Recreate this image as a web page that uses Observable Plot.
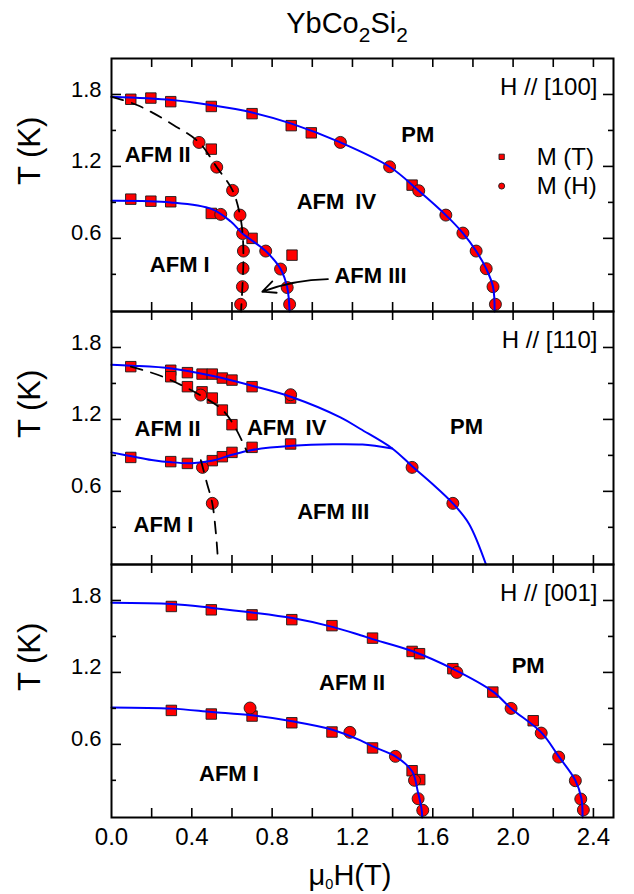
<!DOCTYPE html>
<html><head><meta charset="utf-8">
<script src="https://cdn.jsdelivr.net/npm/d3@7"></script>
<script src="https://cdn.jsdelivr.net/npm/@observablehq/plot@0.6"></script>
<style>
body{margin:0;background:#fff;}
#wrap{position:relative;width:634px;height:894px;font-family:'Liberation Sans',Arial,sans-serif;color:#000;overflow:hidden;}
#title{position:absolute;left:197px;width:300px;top:6px;text-align:center;font-size:29px;line-height:34px;}
#title sub{font-size:0.72em;vertical-align:-0.45em;line-height:0;}
#xlabel{position:absolute;left:250px;width:200px;top:859px;text-align:center;font-size:29px;line-height:32px;}
#xlabel sub{font-size:0.5em;vertical-align:-0.3em;line-height:0;}
.p{position:absolute;left:0;}
</style></head>
<body><div id="wrap">
<div id="title">YbCo<sub>2</sub>Si<sub>2</sub></div>
<div id="xlabel">μ<sub>0</sub>H(T)</div>
</div>
<script>
// ---- tick values ----
const xTicks = [0.2,0.4,0.6,0.8,1.0,1.2,1.4,1.6,1.8,2.0,2.2,2.4];
const xTickLabels = [0.0,0.4,0.8,1.2,1.6,2.0,2.4];
const yMajor = [0.6,1.2,1.8];
const yMinor = [0.3,0.9,1.5];

// ---- H // [100] ----
const p100Squares = [[0.096,1.76],[0.196,1.77],[0.295,1.74],[0.497,1.70],[0.70,1.64],[0.895,1.54],[0.995,1.48],[1.497,1.044],[0.497,1.344],
  [0.096,0.927],[0.196,0.91],[0.295,0.905],[0.497,0.808],[0.70,0.60],[0.899,0.46]];
const p100Circles = [[1.14,1.40],[1.385,1.197],[1.53,0.997],[1.665,0.794],[1.75,0.644],[1.816,0.494],[1.866,0.347],[1.90,0.197],[1.912,0.05],
  [0.544,0.80],[0.653,0.64],[0.768,0.494],[0.842,0.344],[0.875,0.19],[0.887,0.05],
  [0.436,1.40],[0.524,1.194],[0.603,1.0],[0.64,0.794],[0.657,0.494],[0.655,0.35],[0.652,0.197],[0.643,0.05]];
const p100UpperFit = [[0,1.78],[0.3,1.753],[0.5,1.71],[0.7,1.65],[0.9,1.555],[1.14,1.40],[1.385,1.197],[1.53,0.997],[1.665,0.794],[1.75,0.644],[1.816,0.494],[1.866,0.347],[1.90,0.197],[1.908,-0.01]];
const p100LowerFit = [[0,0.913],[0.295,0.90],[0.5,0.844],[0.594,0.74],[0.653,0.64],[0.768,0.494],[0.842,0.344],[0.875,0.19],[0.887,-0.01]];
const p100Dashed = [[0,1.78],[0.13,1.71],[0.31,1.544],[0.436,1.40],[0.524,1.194],[0.603,1.0],[0.64,0.794],[0.653,0.636],[0.657,0.45],[0.655,0.3],[0.645,-0.01]];

// ---- H // [110] ----
const p110Squares = [[0.096,1.64],[0.295,1.61],[0.295,1.556],[0.378,1.59],[0.378,1.473],[0.451,1.578],[0.451,1.43],[0.502,1.578],[0.502,1.378],
  [0.552,1.545],[0.552,1.278],[0.60,1.528],[0.60,1.156],[0.70,1.473],[0.892,1.378],
  [0.096,0.883],[0.295,0.848],[0.378,0.833],[0.502,0.856],[0.552,0.889],[0.60,0.925],[0.70,0.967],[0.892,0.995]];
const p110Circles = [[0.444,1.403],[0.892,1.406],[0.453,0.80],[0.502,0.50],[1.497,0.80],[1.70,0.50]];
const p110UpperFit = [[0,1.655],[0.1,1.648],[0.3,1.625],[0.5,1.564],[0.7,1.481],[0.9,1.385],[1.14,1.217],[1.24,1.12],[1.398,0.958],[1.497,0.81],[1.60,0.66],[1.70,0.5],[1.78,0.33],[1.865,-0.01]];
const p110LowerFit = [[0,0.925],[0.1,0.893],[0.2,0.862],[0.3,0.842],[0.4,0.835],[0.5,0.855],[0.6,0.905],[0.7,0.945],[0.9,0.98],[1.1,0.993],[1.25,0.99],[1.398,0.958]];
const p110DashedUpper = [[0.096,1.64],[0.25,1.56],[0.444,1.40],[0.552,1.28],[0.61,1.15],[0.675,0.93]];
const p110DashedLower = [[0.445,0.86],[0.475,0.67],[0.502,0.50],[0.52,0.25],[0.528,0.08]];

// ---- H // [001] ----
const p001Squares = [[0.298,1.75],[0.497,1.722],[0.70,1.68],[0.898,1.64],[1.098,1.59],[1.30,1.486],[1.497,1.375],[1.534,1.356],[1.70,1.231],[1.899,1.036],[2.10,0.797],
  [0.298,0.883],[0.497,0.853],[0.70,0.836],[0.898,0.78],[1.098,0.703],[1.30,0.57],[1.497,0.38],[1.535,0.306]];
const p001Circles = [[1.72,1.20],[1.99,0.90],[2.14,0.694],[2.227,0.494],[2.31,0.297],[2.337,0.144],[2.35,0.053],
  [0.69,0.903],[1.187,0.70],[1.414,0.50],[1.509,0.30],[1.527,0.147],[1.55,0.05]];
const p001UpperFit = [[0,1.78],[0.3,1.77],[0.5,1.738],[0.7,1.70],[0.9,1.653],[1.1,1.58],[1.24,1.51],[1.3,1.478],[1.5,1.377],[1.7,1.23],[1.9,1.04],[1.99,0.90],[2.14,0.70],[2.227,0.50],[2.31,0.30],[2.34,0.15],[2.346,-0.01]];
const p001LowerFit = [[0,0.908],[0.3,0.898],[0.5,0.87],[0.7,0.842],[0.9,0.792],[1.1,0.722],[1.24,0.633],[1.3,0.583],[1.414,0.50],[1.497,0.375],[1.525,0.21],[1.545,0.05],[1.547,-0.01]];

// ---- annotations (data coordinates) ----
const p100Labels = [{x:0.23,y:1.294,t:"AFM II"},{x:0.34,y:0.378,t:"AFM I"},{x:1.12,y:0.905,t:"AFM\u2002IV"},{x:1.525,y:1.46,t:"PM"},{x:1.29,y:0.285,t:"AFM III"}];
const p110Labels = [{x:0.279,y:1.12,t:"AFM II"},{x:0.872,y:1.128,t:"AFM\u2002IV"},{x:0.259,y:0.32,t:"AFM I"},{x:1.104,y:0.425,t:"AFM III"},{x:1.768,y:1.14,t:"PM"}];
const p001Labels = [{x:1.198,y:1.11,t:"AFM II"},{x:2.075,y:1.256,t:"PM"},{x:0.585,y:0.356,t:"AFM I"}];
const legendItems = [{x:1.943,y:1.28,sym:"square",t:"M (T)"},{x:1.943,y:1.036,sym:"circle",t:"M (H)"}];
const arrow100 = [{x1:1.078,y1:0.26,x2:0.751,y2:0.155}];

const W = 502, H = 253;
const px = d => d[0], py = d => d[1];
const SQ = 5.9, CI = 6;

function panel({squares, circles, fits, dashed, labels, dir, extra = [], bottom = false, top}) {
  const mt = 6, mb = bottom ? 50 : 6;
  const marks = [
    Plot.dot(squares, {x: px, y: py, symbol: "square", r: SQ, fill: "#ff0000", stroke: "#1a1a1a", strokeWidth: 0.9}),
    Plot.dot(circles, {x: px, y: py, symbol: "circle", r: CI, fill: "#ff0000", stroke: "#1a1a1a", strokeWidth: 0.9}),
    ...fits.map(f => Plot.line(f, {x: px, y: py, stroke: "#0000ff", strokeWidth: 2, curve: "catmull-rom"})),
    ...dashed.map(f => Plot.line(f, {x: px, y: py, stroke: "#000", strokeWidth: 1.8, strokeDasharray: "12,9", curve: "catmull-rom"})),
    Plot.text(labels, {x: "x", y: "y", text: "t", fontWeight: "bold", fontSize: 22}),
    Plot.text([dir], {x: 2.42, y: 1.86, text: d => d, textAnchor: "end", fontSize: 24}),
    ...extra,
    // inward ticks
    Plot.tickX(xTicks, {x: d => d, insetTop: H - 9, stroke: "#000", strokeWidth: 1.6}),
    Plot.tickX(xTicks, {x: d => d, insetBottom: H - 9, stroke: "#000", strokeWidth: 1.6}),
    Plot.tickY(yMajor, {y: d => d, insetRight: W - 10, stroke: "#000", strokeWidth: 1.6}),
    Plot.tickY(yMajor, {y: d => d, insetLeft: W - 10, stroke: "#000", strokeWidth: 1.6}),
    Plot.tickY(yMinor, {y: d => d, insetRight: W - 5, stroke: "#000", strokeWidth: 1.6}),
    Plot.tickY(yMinor, {y: d => d, insetLeft: W - 5, stroke: "#000", strokeWidth: 1.6}),
    Plot.axisY(yMajor, {tickSize: 0, tickPadding: 10, tickFormat: d3.format(".1f"), label: null, fontSize: 22, dy: -5}),
    Plot.text(["T (K)"], {frameAnchor: "left", text: d => d, rotate: -90, dx: -81, fontSize: 31}),
    Plot.frame({stroke: "#000", strokeWidth: 2})
  ];
  if (bottom) marks.push(Plot.axisX(xTickLabels, {tickSize: 0, tickPadding: 10, tickFormat: d3.format(".1f"), label: null, fontSize: 24}));
  const svg = Plot.plot({
    width: 634, height: H + mt + mb,
    marginLeft: 111, marginRight: 21, marginTop: mt, marginBottom: mb,
    style: {fontFamily: "'Liberation Sans', Arial, sans-serif", background: "transparent", color: "#000", overflow: "visible"},
    x: {domain: [0, 2.5], axis: bottom ? undefined : null},
    y: {domain: [-0.01, 2.1]},
    marks
  });
  svg.classList.add("p");
  svg.style.top = (top - mt) + "px";
  document.getElementById("wrap").appendChild(svg);
}

panel({
  squares: p100Squares, circles: p100Circles, fits: [p100UpperFit, p100LowerFit], dashed: [p100Dashed],
  labels: p100Labels, dir: "H // [100]", top: 58,
  extra: [
    Plot.dot(legendItems, {x: "x", y: "y", symbol: "sym", r: d => d.sym === "square" ? SQ : CI, fill: "#ff0000", stroke: "#1a1a1a", strokeWidth: 0.9}),
    Plot.text(legendItems, {x: "x", y: "y", text: "t", dx: 35, textAnchor: "start", fontSize: 24}),
    Plot.arrow(arrow100, {x1: "x1", y1: "y1", x2: "x2", y2: "y2", bend: -10, stroke: "#000", strokeWidth: 1.8, headLength: 12, headAngle: 50})
  ]
});
panel({
  squares: p110Squares, circles: p110Circles, fits: [p110UpperFit, p110LowerFit], dashed: [p110DashedUpper, p110DashedLower],
  labels: p110Labels, dir: "H // [110]", top: 311
});
panel({
  squares: p001Squares, circles: p001Circles, fits: [p001UpperFit, p001LowerFit], dashed: [],
  labels: p001Labels, dir: "H // [001]", top: 564, bottom: true
});
</script>
</body></html>
